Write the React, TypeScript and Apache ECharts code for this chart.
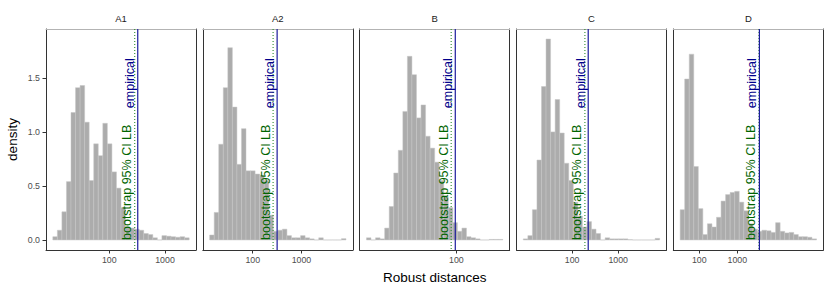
import React, { useEffect, useRef } from "react";
import * as echarts from "echarts";

// Facet labels
const PANELS = ["A1", "A2", "B", "C", "D"];

// Histogram bin range per panel (log10 of the lowest and highest bin edge), 30 bins each
const binLo = [0.986, 1.115, 0.502, 0.939, 1.496];
const binHi = [3.434, 3.916, 2.775, 3.9, 5.08];

// Densities per bin (30 bins)
const densA1 = [0.03, 0.09, 0.26, 0.54, 1.18, 1.41, 1.43, 1.09, 0.55, 0.89, 0.78, 1.08, 0.89, 0.63, 0.48, 0.3, 0.12, 0.11, 0.1, 0.09, 0.06, 0.05, 0.02, 0, 0.04, 0.035, 0.03, 0.025, 0.03, 0.02];
const densA2 = [0.046, 0.255, 0.886, 1.41, 1.78, 1.23, 0.7, 1.03, 0.64, 0.64, 0.61, 0.6, 0.55, 0.23, 0.08, 0.09, 0.1, 0.04, 0.02, 0.02, 0.04, 0.02, 0.01, 0, 0.02, 0, 0, 0, 0, 0.012];
const densB = [0.02, 0, 0.02, 0.01, 0.11, 0.31, 0.62, 0.83, 1.19, 1.7, 1.53, 1.13, 1.25, 0.96, 0.85, 0.72, 0.55, 0.4, 0.3, 0.16, 0.08, 0.11, 0.03, 0.02, 0.01, 0, 0, 0.005, 0.005, 0.005];
const densC = [0.01, 0.04, 0.28, 0.74, 1.42, 1.86, 1.0, 1.3, 0.99, 0.71, 0.55, 0.35, 0.22, 0.12, 0.17, 0.1, 0.06, 0, 0.02, 0.01, 0.01, 0.01, 0.01, 0.003, 0, 0, 0, 0, 0, 0.015];
const densD = [0.28, 1.49, 1.72, 0.68, 0.29, 0.05, 0.15, 0.12, 0.21, 0.36, 0.42, 0.44, 0.45, 0.35, 0.27, 0.15, 0.1, 0.08, 0.09, 0.085, 0.07, 0.16, 0.08, 0.065, 0.07, 0.05, 0.03, 0.03, 0.025, 0.01];
const densities = [densA1, densA2, densB, densC, densD];

// Reference lines (robust distance values)
const empirical = [324, 317, 96, 223, 3795];
const ciLB = [286, 262, 82, 189, 3700];
const EMP_LABEL_Y = 1.22;
const CI_LABEL_Y = 0;

// Tick labels
const xTicks = [[100, 1000], [100, 1000], [100], [100, 1000], [100, 1000]];
const yTicks = [0, 0.5, 1, 1.5];

const FONT = '"Liberation Sans", Arial, Helvetica, sans-serif';

function buildOption() {
  const maxD = Math.max(...densities.map((a) => Math.max(...a)));
  const yMin = -0.05 * maxD;
  const yMax = 1.05 * maxD;

  const grid: any[] = [];
  const xAxis: any[] = [];
  const yAxis: any[] = [];
  const series: any[] = [];

  PANELS.forEach((name, i) => {
    const lo = binLo[i];
    const hi = binHi[i];
    const span = hi - lo;
    const xmin = lo - 0.05 * span;
    const xmax = hi + 0.05 * span;
    const logTicks = xTicks[i].map((t) => Math.log10(t));

    grid.push({ left: 46 + i * 156.83, top: 29, width: 150, height: 221 });

    xAxis.push({
      type: "value",
      gridIndex: i,
      min: xmin,
      max: xmax,
      position: "bottom",
      axisLine: { show: true, onZero: false, lineStyle: { color: "#333333", width: 1 } },
      axisTick: { show: true, customValues: logTicks, length: 3.5, lineStyle: { color: "#333333" } },
      axisLabel: {
        show: true,
        customValues: logTicks,
        formatter: (v: number) => String(Math.round(Math.pow(10, v))),
        color: "#4d4d4d",
        fontSize: 8.8,
        margin: 5,
        fontFamily: FONT,
      },
      splitLine: { show: false },
      name: i === 2 ? "Robust distances" : "",
      nameLocation: "middle",
      nameGap: 20,
      nameTextStyle: { fontSize: 13.5, color: "#000000", fontFamily: FONT },
    });
    xAxis.push({
      type: "value",
      gridIndex: i,
      min: xmin,
      max: xmax,
      position: "top",
      axisLine: { show: true, onZero: false, lineStyle: { color: "#b3b3b3", width: 1 } },
      axisTick: { show: false },
      axisLabel: { show: false },
      splitLine: { show: false },
      name: name,
      nameLocation: "middle",
      nameGap: 6,
      nameTextStyle: { fontSize: 9.5, color: "#1a1a1a", fontFamily: FONT },
    });

    yAxis.push({
      type: "value",
      gridIndex: i,
      min: yMin,
      max: yMax,
      position: "left",
      axisLine: { show: true, onZero: false, lineStyle: { color: "#333333", width: 1 } },
      axisTick: { show: i === 0, customValues: yTicks, length: 3.5, lineStyle: { color: "#333333" } },
      axisLabel: {
        show: i === 0,
        customValues: yTicks,
        formatter: (v: number) => v.toFixed(1),
        color: "#4d4d4d",
        fontSize: 8.8,
        margin: 6,
        fontFamily: FONT,
      },
      splitLine: { show: false },
      name: i === 0 ? "density" : "",
      nameLocation: "middle",
      nameGap: 27,
      nameTextStyle: { fontSize: 13.5, color: "#000000", fontFamily: FONT },
    });
    yAxis.push({
      type: "value",
      gridIndex: i,
      min: yMin,
      max: yMax,
      position: "right",
      axisLine: { show: true, onZero: false, lineStyle: { color: "#333333", width: 1 } },
      axisTick: { show: false },
      axisLabel: { show: false },
      splitLine: { show: false },
    });

    const w = span / densities[i].length;
    series.push({
      type: "custom",
      xAxisIndex: 2 * i,
      yAxisIndex: 2 * i,
      silent: true,
      encode: { x: [0, 1], y: 2 },
      data: densities[i].map((d, k) => [lo + k * w, lo + (k + 1) * w, d]),
      renderItem: (params: any, api: any) => {
        const p0 = api.coord([api.value(0), api.value(2)]);
        const p1 = api.coord([api.value(1), 0]);
        return {
          type: "rect",
          shape: { x: p0[0], y: p0[1], width: p1[0] - p0[0], height: p1[1] - p0[1] },
          style: { fill: "#acacac", stroke: "#c6c6c6", lineWidth: 0.5 },
        };
      },
      z: 2,
    });

    const makeLine = (val: number, labelY: number, text: string, lineColor: string, textColor: string, dash: any, lw: number) => ({
      type: "custom",
      xAxisIndex: 2 * i,
      yAxisIndex: 2 * i,
      silent: true,
      encode: { x: 0, y: 1 },
      data: [[Math.log10(val), labelY]],
      renderItem: (params: any, api: any) => {
        const cs = params.coordSys;
        const p = api.coord([api.value(0), api.value(1)]);
        return {
          type: "group",
          children: [
            {
              type: "line",
              shape: { x1: p[0], y1: cs.y, x2: p[0], y2: cs.y + cs.height },
              style: { stroke: lineColor, lineWidth: lw, lineDash: dash },
            },
            {
              type: "text",
              x: p[0] - 1,
              y: p[1],
              rotation: Math.PI / 2,
              style: {
                text: text,
                fill: textColor,
                fontSize: 12.5,
                fontFamily: FONT,
                align: "left",
                verticalAlign: "bottom",
              },
            },
          ],
        };
      },
      z: 5,
    });

    series.push(makeLine(ciLB[i], CI_LABEL_Y, "bootstrap 95% CI LB", "#2e8b2e", "#006400", [1, 2], 1.1));
    series.push(makeLine(empirical[i], EMP_LABEL_Y, "empirical", "#1c1c9c", "#00008b", null, 1.2));
  });

  return {
    animation: false,
    backgroundColor: "#ffffff",
    textStyle: { fontFamily: FONT },
    grid,
    xAxis,
    yAxis,
    series,
  };
}

export default function App() {
  const ref = useRef<HTMLDivElement>(null);
  useEffect(() => {
    if (!ref.current) return;
    const chart = echarts.init(ref.current, null, { renderer: "svg" });
    chart.setOption(buildOption() as any);
    return () => chart.dispose();
  }, []);
  return (
    <div
      ref={ref}
      style={{ position: "absolute", left: 0, top: 0, width: 830, height: 291, background: "#fff" }}
    />
  );
}
